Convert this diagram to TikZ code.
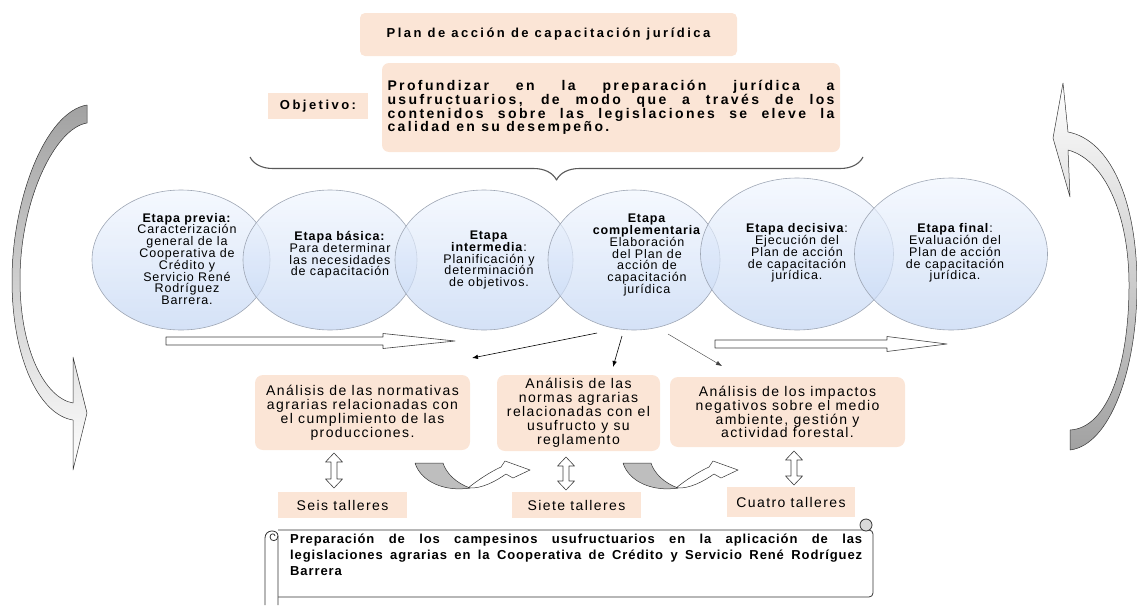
\documentclass[tikz,border=0pt]{standalone}
\usepackage{fontspec}
\setmainfont{Liberation Sans}
\newfontfamily\titlefont{Liberation Sans}[LetterSpace=19]
\newfontfamily\objfont{Liberation Sans}[LetterSpace=17]
\newfontfamily\stagefont{Liberation Sans}[LetterSpace=7]
\newfontfamily\boxfont{Liberation Sans}[LetterSpace=10]
\newfontfamily\scrollfont{Liberation Sans}[LetterSpace=7]
\usetikzlibrary{shapes.geometric,decorations.pathreplacing,arrows.meta}

\definecolor{peach}{RGB}{251,229,214}
\definecolor{stagetop}{RGB}{241,246,254}
\definecolor{stagebot}{RGB}{194,213,243}
\definecolor{stageline}{RGB}{158,166,180}
\definecolor{ribbon}{RGB}{190,190,190}

\begin{document}
\begin{tikzpicture}[x=1pt, y=-1pt, line join=round,
    peachbox/.style={fill=peach, rounded corners=5pt, inner sep=0pt},
    stage/.style={ellipse, draw=stageline, line width=0.6pt, top color=stagetop,
      bottom color=stagebot, fill opacity=0.7, inner sep=0pt},
    stagetext/.style={align=center, inner sep=0pt, font=\stagefont\fontsize{12.5}{11.8}\selectfont},
    boxtext/.style={align=center, font=\boxfont\fontsize{14}{13.9}\selectfont},
    tallerbox/.style={fill=peach, inner sep=0pt, font=\boxfont\fontsize{14}{14}\selectfont},
    hollow/.style={draw=black!75, fill=white, line width=0.6pt},
    ribbonline/.style={draw=black!80, line width=0.5pt},
    scrollline/.style={draw=black!80, line width=0.8pt},
    thinarrow/.style={-{Latex[length=6pt,width=4.5pt]}, line width=0.6pt}]

  \useasboundingbox (0,0) rectangle (1137,605);

  % titulo y objetivo
  \node (title) [peachbox, minimum width=377pt, minimum height=43pt,
    font=\titlefont\bfseries\fontsize{13}{14}\selectfont] at (548.5,34.5)
    {Plan de acción de capacitación jurídica};
  \node (objlabel) [fill=peach, inner sep=0pt, minimum width=100pt, minimum height=26pt,
    font=\titlefont\bfseries\fontsize{13}{14}\selectfont] at (318,106) {Objetivo:};
  \node (objtext) [peachbox, rounded corners=7pt, minimum width=458pt, minimum height=89pt,
    text width=447pt, align=justify,
    font=\objfont\bfseries\fontsize{14}{13.7}\selectfont] at (611,107.5)
    {Profundizar en la preparación jurídica a\linebreak
     usufructuarios, de modo que a través de los\linebreak
     contenidos sobre las legislaciones se eleve la\linebreak
     calidad en su desempeño.};
  \draw[decorate, decoration={brace, mirror, amplitude=23pt}, draw=black!65, line width=1.1pt]
    (250,157) -- (863,157);

  % ciclo exterior
  \draw[ribbonline, top color=ribbon!85!black, middle color=white, bottom color=white]
    (87,105) .. controls (45,112) and (12,200) .. (12,280)
             .. controls (12,360) and (40,415) .. (73,420)
    -- (73,470) -- (87,413) -- (73,357) -- (73,403)
             .. controls (45,398) and (20,350) .. (20,280)
             .. controls (20,200) and (55,128) .. (87,123) -- cycle;
  \draw[ribbonline, top color=white, middle color=white, bottom color=ribbon!85!black]
    (1070,450) .. controls (1110,445) and (1137,370) .. (1137,285)
               .. controls (1137,200) and (1110,140) .. (1068,132)
    -- (1063,83) -- (1053,138) -- (1070,197) -- (1068,150)
               .. controls (1105,160) and (1129,215) .. (1129,285)
               .. controls (1129,365) and (1108,428) .. (1070,430) -- cycle;

  % etapas
  \foreach \nm/\cx/\cy/\w/\h in {e1/181/260/178/140, e2/330/260/174/140, e3/484/260/178/140,
      e4/634/260/172/140, e5/797/254/193/152, e6/951/254/193/152}
    \node (\nm) [stage, minimum width=\w pt, minimum height=\h pt] at (\cx,\cy) {};

  \node (t1) [stagetext] at (187,259) {\textbf{Etapa previa:}\\Caracterización\\general de la\\
    Cooperativa de\\Crédito y\\Servicio René\\Rodríguez\\Barrera.};
  \node (t2) [stagetext] at (340,255) {\textbf{Etapa básica:}\\Para determinar\\
    las necesidades\\de capacitación};
  \node (t3) [stagetext] at (489,260) {\textbf{Etapa}\\\textbf{intermedia}:\\
    Planificación y\\determinación\\de objetivos.};
  \node (t4) [stagetext] at (647,255) {\textbf{Etapa}\\\textbf{complementaria}\\
    Elaboración\\del Plan de\\acción de\\capacitación\\jurídica};
  \node (t5) [stagetext] at (797,253) {\textbf{Etapa decisiva}:\\Ejecución del\\
    Plan de acción\\de capacitación\\jurídica.};
  \node (t6) [stagetext] at (955,253) {\textbf{Etapa final}:\\Evaluación del\\
    Plan de acción\\de capacitación\\jurídica.};

  % flechas de avance
  \foreach \xa/\xb/\xc/\y in {166/383/455/341, 715/887/947/344}
    \draw[hollow] (\xa,\y-4) -- (\xb,\y-4) -- (\xb,\y-7.5) -- (\xc,\y)
      -- (\xb,\y+7.5) -- (\xb,\y+4) -- (\xa,\y+4) -- cycle;

  \coordinate (a1s) at (597,333); \coordinate (a1e) at (472,358);
  \coordinate (a2s) at (622,336); \coordinate (a2e) at (613,367);
  \coordinate (a3s) at (668,334); \coordinate (a3e) at (722,366);
  \draw[thinarrow] (a1s) -- (a1e);
  \draw[thinarrow] (a2s) -- (a2e);
  \draw[thinarrow, line width=0.4pt, draw=black!75] (a3s) -- (a3e);

  % analisis
  \node (anA) [peachbox, rounded corners=8pt, minimum width=215pt, minimum height=75pt, boxtext]
    at (362.5,412.5) {Análisis de las normativas\\agrarias relacionadas con\\
    el cumplimiento de las\\producciones.};
  \node (anB) [peachbox, rounded corners=8pt, minimum width=163pt, minimum height=76pt, boxtext]
    at (578.5,413) {Análisis de las\\normas agrarias\\relacionadas con el\\
    usufructo y su\\reglamento};
  \node (anC) [peachbox, rounded corners=8pt, minimum width=235pt, minimum height=70pt, boxtext]
    at (787.5,412) {Análisis de los impactos\\negativos sobre el medio\\
    ambiente, gestión y\\actividad forestal.};

  % talleres
  \node (seis) [tallerbox, minimum width=129pt, minimum height=26pt] at (342.5,505) {Seis talleres};
  \node (siete) [tallerbox, minimum width=129pt, minimum height=26pt] at (576.5,505) {Siete talleres};
  \node (cuatro) [tallerbox, minimum width=128pt, minimum height=30pt] at (791,502) {Cuatro talleres};

  \foreach \x/\ya/\yb in {334/453/488, 566/457/490, 794/451/485}
    \draw[hollow] (\x-3,\ya+9) -- (\x-8.5,\ya+9) -- (\x,\ya) -- (\x+8.5,\ya+9) -- (\x+3,\ya+9)
      -- (\x+3,\yb-9) -- (\x+8.5,\yb-9) -- (\x,\yb) -- (\x-8.5,\yb-9) -- (\x-3,\yb-9) -- cycle;

  \foreach \dx in {0,208} {
    \begin{scope}[xshift=\dx pt]
      \draw[ribbonline, fill=white] (468,488) .. controls (478,480) and (490,472) .. (501,467)
        -- (505,461) -- (530,470) -- (513,478) -- (506,474)
        .. controls (496,481) and (482,489) .. (468,488) -- cycle;
      \draw[ribbonline, fill=ribbon] (415,463) .. controls (421,482) and (445,492) .. (470,488)
        .. controls (456,483) and (446,473) .. (443,463) -- cycle;
    \end{scope}
  }

  % pergamino
  \draw[scrollline, fill=white, rounded corners=4pt] (278,530) -- (873,530) -- (873,597) -- (278,597);
  \draw[scrollline, fill=black!15] (866,525) circle (6pt);
  \draw[scrollline, fill=white] (265,605) -- (265,538) .. controls (265,529) and (278,529) .. (278,536)
    -- (278,605);
  \draw[scrollline] (278,536) .. controls (278,542) and (270,542) .. (270,537)
    .. controls (270,533) and (275,533) .. (275,536);
  \node (goal) [anchor=north west, inner sep=0pt, text width=572pt, align=justify,
    font=\scrollfont\bfseries\fontsize{13}{15.8}\selectfont] at (290,534)
    {Preparación de los campesinos usufructuarios en la aplicación de las\linebreak
     legislaciones agrarias en la Cooperativa de Crédito y Servicio René Rodríguez\linebreak
     Barrera};
\end{tikzpicture}
\end{document}
